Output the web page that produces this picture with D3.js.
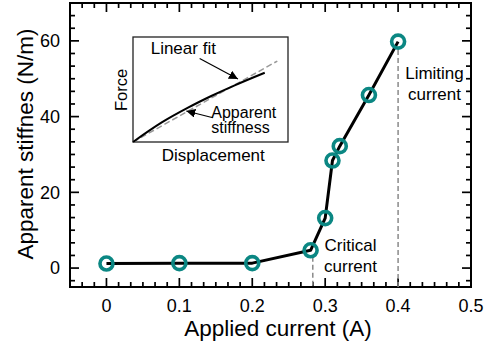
<!DOCTYPE html>
<html>
<head>
<meta charset="utf-8">
<script src="https://cdn.jsdelivr.net/npm/d3@7/dist/d3.min.js"></script>
<style>
  html, body { margin: 0; padding: 0; background: #fff; }
  svg { display: block; font-family: "Liberation Sans", Arial, Helvetica, sans-serif; }
</style>
</head>
<body>
<svg id="chart" width="485" height="348"></svg>
<script>
// ---- data ----
const currents = [0, 0.1, 0.2, 0.28, 0.30, 0.31, 0.32, 0.36, 0.40];
const stiffness = [1.2, 1.3, 1.3, 4.7, 13.2, 28.4, 32.2, 45.7, 59.8];
const xTickValues = [0, 0.1, 0.2, 0.3, 0.4, 0.5];
const xTickLabels = ["0", "0.1", "0.2", "0.3", "0.4", "0.5"];
const yTickValues = [0, 20, 40, 60];
const yTickLabels = ["0", "20", "40", "60"];
const criticalCurrent = 0.283;
const limitingCurrent = 0.40;
// inset (schematic) data, displacement/force in relative units
const insetDisp = [0, 0.183, 0.355, 0.505, 0.656, 0.85];
const insetForce = [0, 0.184, 0.327, 0.438, 0.540, 0.66];
const insetFitDisp = [0, 0.931];
const insetFitForce = [0, 0.771];

const svg = d3.select("#chart");
const L = 70, R = 471, T = 3, B = 287;

const x = d3.scaleLinear().domain([-0.05, 0.5]).range([L, R]);
const y = d3.scaleLinear().domain([-5, 70]).range([B, T]);

const fontTick = 18;
const xMinor = d3.range(-2, 30).map(k => k / 60);
const yMinor = d3.range(-1, 21).map(k => k * 10 / 3);

// frame
svg.append("rect").attr("x", L).attr("y", T).attr("width", R - L).attr("height", B - T)
  .attr("fill", "none").attr("stroke", "#000").attr("stroke-width", 2);

// inward ticks on all four sides
const tk = svg.append("g");
xMinor.forEach(v => {
  const major = Math.abs(v * 10 - Math.round(v * 10)) < 1e-6;
  const len = major ? 9 : 5;
  tk.append("line").attr("x1", x(v)).attr("x2", x(v)).attr("y1", B).attr("y2", B - len)
    .attr("stroke", "#000").attr("stroke-width", 1.7);
  tk.append("line").attr("x1", x(v)).attr("x2", x(v)).attr("y1", T).attr("y2", T + len)
    .attr("stroke", "#000").attr("stroke-width", 1.7);
});
yMinor.forEach(v => {
  const major = Math.abs(v / 20 - Math.round(v / 20)) < 1e-6;
  const len = major ? 9 : 5;
  tk.append("line").attr("y1", y(v)).attr("y2", y(v)).attr("x1", L).attr("x2", L + len)
    .attr("stroke", "#000").attr("stroke-width", 1.7);
  tk.append("line").attr("y1", y(v)).attr("y2", y(v)).attr("x1", R).attr("x2", R - len)
    .attr("stroke", "#000").attr("stroke-width", 1.7);
});

// tick labels
svg.append("g").selectAll("text").data(xTickValues).join("text")
  .attr("x", d => x(d)).attr("y", 311.5).attr("text-anchor", "middle")
  .style("font-size", fontTick + "px").attr("fill", "#000")
  .text((d, i) => xTickLabels[i]);
svg.append("g").selectAll("text").data(yTickValues).join("text")
  .attr("x", 60).attr("y", d => y(d)).attr("dy", "0.35em").attr("text-anchor", "end")
  .style("font-size", fontTick + "px").attr("fill", "#000")
  .text((d, i) => yTickLabels[i]);

// axis titles
svg.append("text").attr("x", 278).attr("y", 336).attr("text-anchor", "middle")
  .style("font-size", "22.5px").attr("fill", "#000").text("Applied current (A)");
svg.append("text").attr("transform", "translate(32.5,144) rotate(-90)").attr("text-anchor", "middle")
  .style("font-size", "22.5px").attr("fill", "#000").text("Apparent stiffnes (N/m)");

// dashed reference lines
const rMark = 6.5;
const dashColor = "#8a8a8a";
svg.append("line")
  .attr("x1", x(criticalCurrent)).attr("x2", x(criticalCurrent))
  .attr("y1", y(stiffness[3]) + rMark).attr("y2", B)
  .attr("stroke", dashColor).attr("stroke-width", 1.5).attr("stroke-dasharray", "5,3");
svg.append("line")
  .attr("x1", x(limitingCurrent)).attr("x2", x(limitingCurrent))
  .attr("y1", y(stiffness[8]) + rMark + 2).attr("y2", B)
  .attr("stroke", dashColor).attr("stroke-width", 1.5).attr("stroke-dasharray", "5,3");

// data line + markers
const pts = currents.map((c, i) => [c, stiffness[i]]);
svg.append("path").datum(pts)
  .attr("d", d3.line().x(d => x(d[0])).y(d => y(d[1])))
  .attr("fill", "none").attr("stroke", "#000").attr("stroke-width", 3).attr("stroke-linejoin", "round");
svg.append("g").selectAll("circle").data(pts).join("circle")
  .attr("cx", d => x(d[0])).attr("cy", d => y(d[1])).attr("r", rMark)
  .attr("fill", "none").attr("stroke", "#0b8783").attr("stroke-width", 3.6);

// annotations
function label(lines, cx, baselines) {
  lines.forEach((t, i) => {
    svg.append("text").attr("x", cx).attr("y", baselines[i]).attr("text-anchor", "middle")
      .style("font-size", "17px").attr("fill", "#000").text(t);
  });
}
label(["Critical", "current"], 350.5, [251, 272]);
label(["Limiting", "current"], 434.5, [79, 100]);

// inset
const ix = d3.scaleLinear().domain([0, 1]).range([133, 288]);
const iy = d3.scaleLinear().domain([0, 1]).range([142, 37]);
svg.append("rect").attr("x", 133).attr("y", 37).attr("width", 155).attr("height", 105)
  .attr("fill", "#fff").attr("stroke", "#222").attr("stroke-width", 1.3);
svg.append("path").datum(insetFitDisp.map((d, i) => [d, insetFitForce[i]]))
  .attr("d", d3.line().x(d => ix(d[0])).y(d => iy(d[1])))
  .attr("fill", "none").attr("stroke", "#999").attr("stroke-width", 1.5).attr("stroke-dasharray", "6,3");
svg.append("path").datum(insetDisp.map((d, i) => [d, insetForce[i]]))
  .attr("d", d3.line().curve(d3.curveMonotoneX).x(d => ix(d[0])).y(d => iy(d[1])))
  .attr("fill", "none").attr("stroke", "#000").attr("stroke-width", 2);

const defs = svg.append("defs");
defs.append("marker").attr("id", "ah").attr("viewBox", "0 0 10 10").attr("refX", 10).attr("refY", 5)
  .attr("markerWidth", 9).attr("markerHeight", 9).attr("markerUnits", "userSpaceOnUse")
  .attr("orient", "auto")
  .append("path").attr("d", "M0,0 L10,5 L0,10 Z").attr("fill", "#000");
const arrows = [
  [[0.430, 0.796], [0.677, 0.600]],
  [[0.516, 0.231], [0.344, 0.295]]
];
arrows.forEach(a => {
  svg.append("line")
    .attr("x1", ix(a[0][0])).attr("y1", iy(a[0][1]))
    .attr("x2", ix(a[1][0])).attr("y2", iy(a[1][1]))
    .attr("stroke", "#000").attr("stroke-width", 1.2).attr("marker-end", "url(#ah)");
});

svg.append("text").attr("x", 150.7).attr("y", 53.5).style("font-size", "17px").attr("fill", "#000").text("Linear fit");
svg.append("text").attr("x", 211.3).attr("y", 117.5).style("font-size", "16px").attr("fill", "#000").text("Apparent");
svg.append("text").attr("x", 211.3).attr("y", 133).style("font-size", "16px").attr("fill", "#000").text("stiffness");
svg.append("text").attr("transform", "translate(127,90) rotate(-90)").attr("text-anchor", "middle")
  .style("font-size", "16.5px").attr("fill", "#000").text("Force");
svg.append("text").attr("x", 213.3).attr("y", 161).attr("text-anchor", "middle")
  .style("font-size", "17px").attr("fill", "#000").text("Displacement");
</script>
</body>
</html>
